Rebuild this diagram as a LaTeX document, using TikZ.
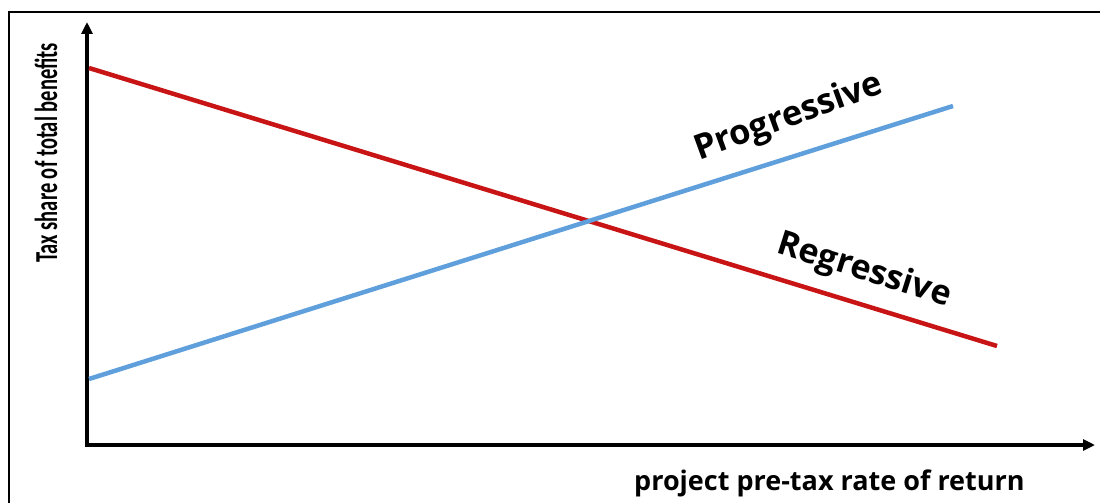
\documentclass[tikz,border=0pt]{standalone}
\usepackage{fontspec}
\setmainfont{Open Sans}
\newfontfamily\condfont[FakeStretch=0.64]{Carlito}
\usetikzlibrary{arrows.meta}
\definecolor{redline}{RGB}{200,20,20}
\definecolor{blueline}{RGB}{95,160,220}
\tikzset{
  axis/.style={line width=3.5pt, -{Triangle[length=12pt,width=11pt]}},
  frame/.style={line width=2.5pt},
  curve/.style={line width=4.5pt},
  lbl/.style={inner sep=0pt},
}
\begin{document}
\begin{tikzpicture}[x=1pt,y=-1pt]
\useasboundingbox (0,0) rectangle (1100,503);
\fill[white] (0,0) rectangle (1100,503);
% frame
\draw[frame] (9,503) -- (9,12) -- (1100,12);
% axes
\coordinate (o) at (87,445);
\coordinate (ytip) at (87,22);
\coordinate (xtip) at (1095,445);
\draw[axis] (87,447) -- (ytip);
\draw[axis] (85,445) -- (xtip);
% lines
\coordinate (r1) at (89,68);
\coordinate (r2) at (997,346);
\coordinate (b1) at (89,379);
\coordinate (b2) at (953,106);
\draw[curve, redline] (r1) -- (r2);
\draw[curve, blueline] (b1) -- (b2);
% labels
\node[lbl, rotate=20, font=\bfseries\fontsize{34.5}{40}\selectfont] (prog) at (789,118) {Progressive};
\node[lbl, rotate=-17.5, font=\bfseries\fontsize{34}{40}\selectfont] (reg) at (864,271) {Regressive};
\node[lbl, font=\bfseries\fontsize{27}{32}\selectfont, anchor=base west] (xl) at (634,490) {project pre-tax rate of return};
\node[lbl, rotate=90, font=\condfont\bfseries\fontsize{32}{36}\selectfont] (yl) at (46,153) {Tax share of total benefits};
\end{tikzpicture}
\end{document}
